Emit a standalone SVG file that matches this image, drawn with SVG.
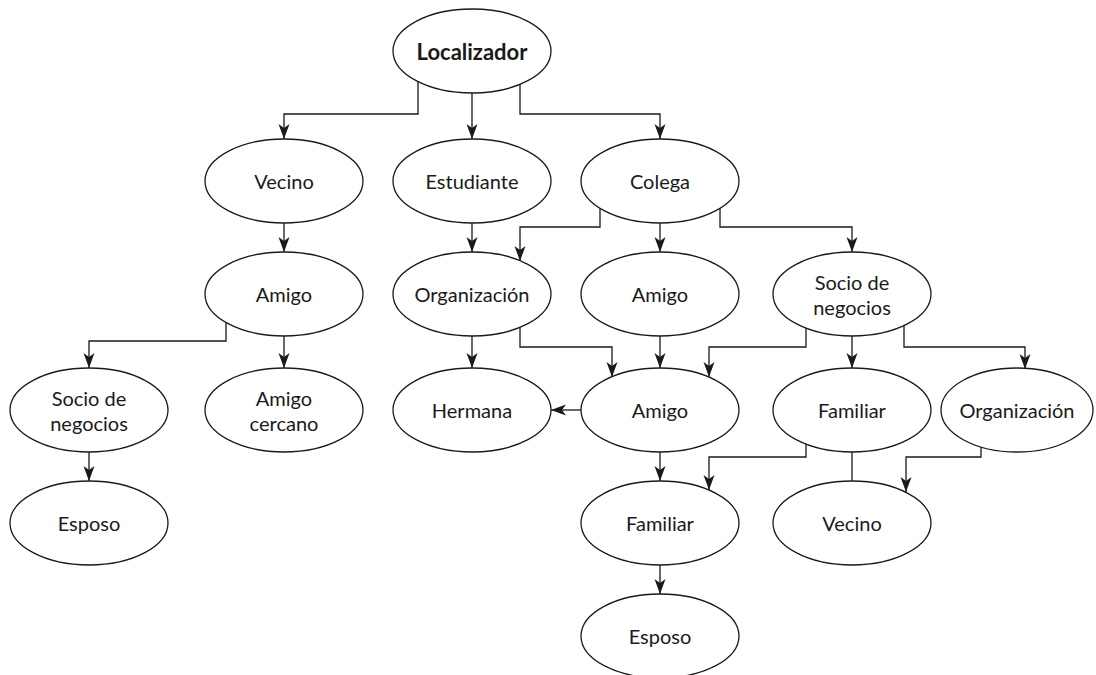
<svg xmlns="http://www.w3.org/2000/svg" width="1096" height="675" viewBox="0 0 1096 675">
<style>
.n ellipse{fill:#fff;stroke:#1a1a1a;stroke-width:1.3}
.n text{font-family:Lato,"Open Sans",sans-serif;font-size:20px;fill:#1a1a1a;text-anchor:middle;dominant-baseline:central}
.n text.b{font-weight:bold;font-size:22px}
#edges path{fill:none;stroke:#1a1a1a;stroke-width:1.3}
</style>
<defs>
<marker id="ah" markerUnits="userSpaceOnUse" markerWidth="16" markerHeight="12" refX="15" refY="5.5" orient="auto">
<path d="M0,0 L15,5.5 L0,11 L4,5.5 Z" fill="#1a1a1a"/>
</marker>
</defs>
<rect width="1096" height="675" fill="#fff"/>
<g id="edges">
<path d="M418,82 V114 H284 V139" marker-end="url(#ah)"/>
<path d="M472,93 V139" marker-end="url(#ah)"/>
<path d="M520,82 V114 H660 V139" marker-end="url(#ah)"/>
<path d="M284,223 V252" marker-end="url(#ah)"/>
<path d="M472,223 V252" marker-end="url(#ah)"/>
<path d="M600,208 V227 H520 V261" marker-end="url(#ah)"/>
<path d="M660,223 V252" marker-end="url(#ah)"/>
<path d="M720,208 V227 H852 V252" marker-end="url(#ah)"/>
<path d="M226,322 V341 H89 V368" marker-end="url(#ah)"/>
<path d="M284,336 V368" marker-end="url(#ah)"/>
<path d="M472,336 V368" marker-end="url(#ah)"/>
<path d="M520,327 V347 H612 V377" marker-end="url(#ah)"/>
<path d="M660,336 V368" marker-end="url(#ah)"/>
<path d="M806,328 V347 H709 V377" marker-end="url(#ah)"/>
<path d="M852,336 V368" marker-end="url(#ah)"/>
<path d="M904,326 V347 H1025 V369" marker-end="url(#ah)"/>
<path d="M582,410 H551" marker-end="url(#ah)"/>
<path d="M89,452 V481" marker-end="url(#ah)"/>
<path d="M660,452 V481" marker-end="url(#ah)"/>
<path d="M806,444 V457 H709 V490" marker-end="url(#ah)"/>
<path d="M852,452 V481"/>
<path d="M981,447 V457 H906 V492" marker-end="url(#ah)"/>
<path d="M660,565 V594" marker-end="url(#ah)"/>
</g>
<g id="localizador" class="n"><ellipse cx="472" cy="51" rx="79" ry="42"/><text class="b" x="472" y="51">Localizador</text></g>
<g id="vecino1" class="n"><ellipse cx="284" cy="181" rx="79" ry="42"/><text x="284" y="181">Vecino</text></g>
<g id="estudiante" class="n"><ellipse cx="472" cy="181" rx="79" ry="42"/><text x="472" y="181">Estudiante</text></g>
<g id="colega" class="n"><ellipse cx="660" cy="181" rx="79" ry="42"/><text x="660" y="181">Colega</text></g>
<g id="amigo1" class="n"><ellipse cx="284" cy="294" rx="79" ry="42"/><text x="284" y="294">Amigo</text></g>
<g id="organizacion1" class="n"><ellipse cx="472" cy="294" rx="79" ry="42"/><text x="472" y="294">Organización</text></g>
<g id="amigo2" class="n"><ellipse cx="660" cy="294" rx="79" ry="42"/><text x="660" y="294">Amigo</text></g>
<g id="socio1" class="n"><ellipse cx="852" cy="294" rx="79" ry="42"/><text x="852" y="282">Socio de</text><text x="852" y="306.5">negocios</text></g>
<g id="socio2" class="n"><ellipse cx="89" cy="410" rx="79" ry="42"/><text x="89" y="398">Socio de</text><text x="89" y="422.5">negocios</text></g>
<g id="amigocercano" class="n"><ellipse cx="284" cy="410" rx="79" ry="42"/><text x="284" y="398">Amigo</text><text x="284" y="422.5">cercano</text></g>
<g id="hermana" class="n"><ellipse cx="472" cy="410" rx="79" ry="42"/><text x="472" y="410">Hermana</text></g>
<g id="amigo3" class="n"><ellipse cx="660" cy="410" rx="79" ry="42"/><text x="660" y="410">Amigo</text></g>
<g id="familiar1" class="n"><ellipse cx="852" cy="410" rx="79" ry="42"/><text x="852" y="410">Familiar</text></g>
<g id="organizacion2" class="n"><ellipse cx="1017" cy="410" rx="76" ry="42"/><text x="1017" y="410">Organización</text></g>
<g id="esposo1" class="n"><ellipse cx="89" cy="523" rx="79" ry="42"/><text x="89" y="523">Esposo</text></g>
<g id="familiar2" class="n"><ellipse cx="660" cy="523" rx="79" ry="42"/><text x="660" y="523">Familiar</text></g>
<g id="vecino2" class="n"><ellipse cx="852" cy="523" rx="79" ry="42"/><text x="852" y="523">Vecino</text></g>
<g id="esposo2" class="n"><ellipse cx="660" cy="636" rx="79" ry="42"/><text x="660" y="636">Esposo</text></g>
</svg>
